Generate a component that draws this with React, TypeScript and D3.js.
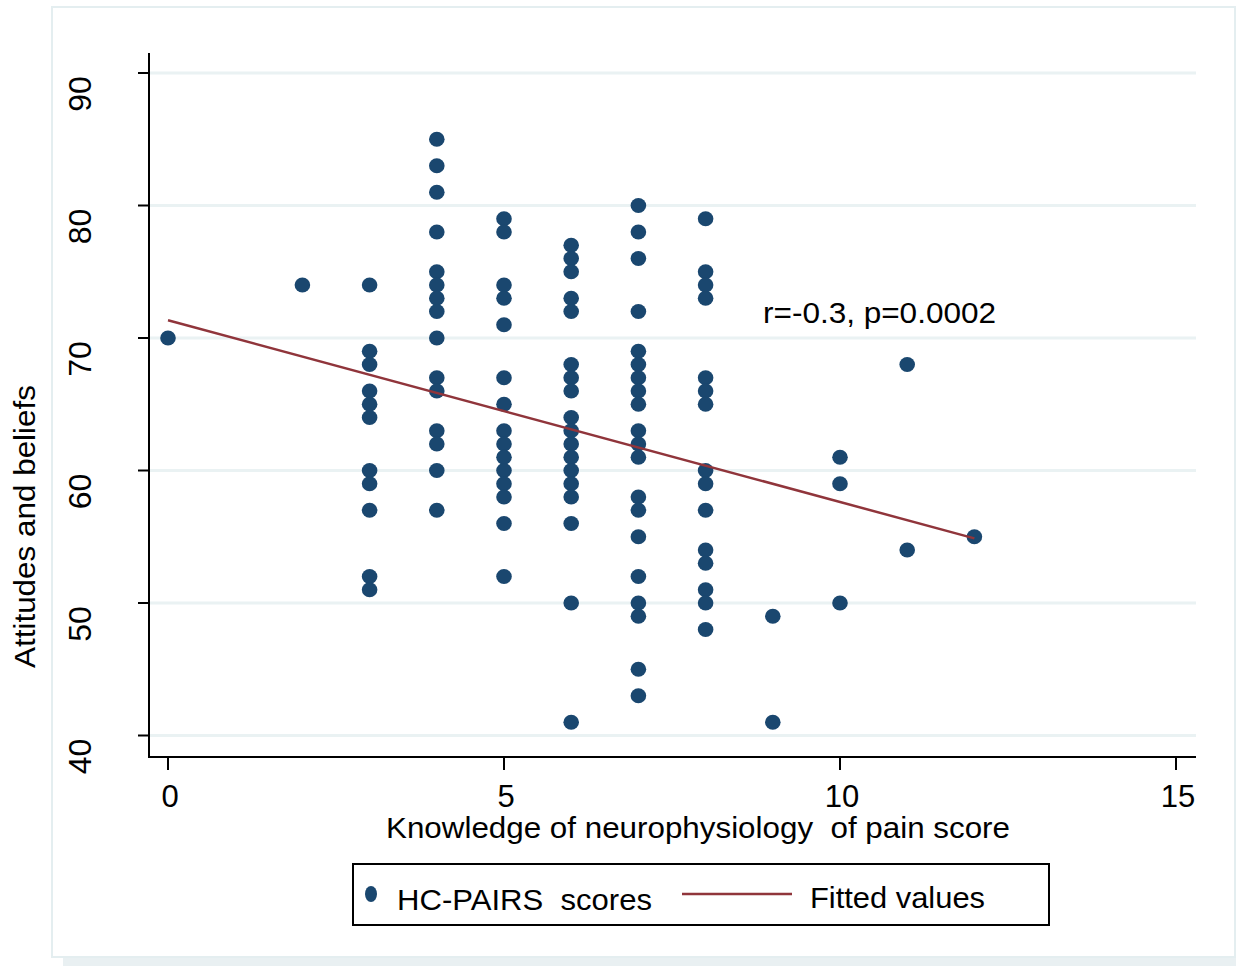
import React from "react";
import * as d3 from "d3";

// HC-PAIRS scores, one array per knowledge score
const knowledgeLevels = [0, 2, 3, 4, 5, 6, 7, 8, 9, 10, 11, 12];
const at0 = [70];
const at2 = [74];
const at3 = [74, 69, 68, 66, 65, 64, 60, 59, 57, 52, 51];
const at4 = [85, 83, 81, 78, 75, 74, 73, 72, 70, 67, 66, 63, 62, 60, 57];
const at5 = [79, 78, 74, 73, 71, 67, 65, 63, 62, 61, 60, 59, 58, 56, 52];
const at6 = [77, 76, 75, 73, 72, 68, 67, 66, 64, 63, 62, 61, 60, 59, 58, 56, 50, 41];
const at7 = [80, 78, 76, 72, 69, 68, 67, 66, 65, 63, 62, 61, 58, 57, 55, 52, 50, 49, 45, 43];
const at8 = [79, 75, 74, 73, 67, 66, 65, 60, 59, 57, 54, 53, 51, 50, 48];
const at9 = [49, 41];
const at10 = [61, 59, 50];
const at11 = [68, 54];
const at12 = [55];
const columns = [at0, at2, at3, at4, at5, at6, at7, at8, at9, at10, at11, at12];

// fitted line end points
const fitX = [0, 12];
const fitY = [71.34, 54.88];

const xTicks = [0, 5, 10, 15];
const yTicks = [40, 50, 60, 70, 80, 90];

const navy = "#1a476f";
const maroon = "#90353b";
const grid = "#eaf2f3";
const font = "'Liberation Sans', Arial, sans-serif";

export default function App() {
  const x = d3.scaleLinear().domain([0, 15]).range([168, 1176]);
  const y = d3.scaleLinear().domain([40, 90]).range([735.5, 73]);

  const points: { k: number; v: number }[] = [];
  columns.forEach((vals, i) => vals.forEach(v => points.push({ k: knowledgeLevels[i], v })));

  const line = d3
    .line<number>()
    .x((d, i) => x(fitX[i]))
    .y(d => y(d));

  return (
    <svg
      width={1236}
      height={966}
      style={{ position: "absolute", left: 0, top: 0, background: "#fff" }}
      fontFamily={font}
    >
      {/* outer frame */}
      <rect x={52} y={7} width={1183} height={950} fill="#fff" stroke="#e4eef0" strokeWidth={2} />
      <rect x={63} y={958} width={1173} height={8} fill="#e9f0f2" />

      {/* gridlines */}
      {yTicks.map(t => (
        <line key={"g" + t} x1={150} x2={1196} y1={y(t)} y2={y(t)} stroke={grid} strokeWidth={3} />
      ))}

      {/* axes */}
      <line x1={149} x2={149} y1={53} y2={758} stroke="#000" strokeWidth={2} />
      <line x1={148} x2={1196} y1={757} y2={757} stroke="#000" strokeWidth={2} />
      {yTicks.map(t => (
        <g key={"y" + t}>
          <line x1={138} x2={149} y1={y(t)} y2={y(t)} stroke="#000" strokeWidth={2} />
          <text
            transform={`translate(91,${y(t) + 21}) rotate(-90)`}
            textAnchor="middle"
            fontSize={32}
            fill="#000"
          >
            {t}
          </text>
        </g>
      ))}
      {xTicks.map(t => (
        <g key={"x" + t}>
          <line x1={x(t)} x2={x(t)} y1={757} y2={770} stroke="#000" strokeWidth={2} />
          <text x={x(t) + 2} y={807} textAnchor="middle" fontSize={31} fill="#000">
            {t}
          </text>
        </g>
      ))}

      {/* axis titles */}
      <text
        x={386}
        y={838}
        fontSize={30}
        fill="#000"
        textLength={624}
        lengthAdjust="spacingAndGlyphs"
        style={{ whiteSpace: "pre" }}
      >
        {"Knowledge of neurophysiology  of pain score"}
      </text>
      <text
        transform="translate(35,668) rotate(-90)"
        fontSize={30}
        fill="#000"
        textLength={283}
        lengthAdjust="spacingAndGlyphs"
      >
        Attitudes and beliefs
      </text>

      {/* points */}
      {points.map((p, i) => (
        <ellipse key={i} cx={x(p.k)} cy={y(p.v)} rx={7.8} ry={7.5} fill={navy} />
      ))}

      {/* fitted line */}
      <path d={line(fitY) || ""} fill="none" stroke={maroon} strokeWidth={2.5} />

      <text x={763} y={323} fontSize={29} fill="#000" textLength={233} lengthAdjust="spacingAndGlyphs">
        r=-0.3, p=0.0002
      </text>

      {/* legend */}
      <rect x={353} y={864} width={696} height={61} fill="#fff" stroke="#000" strokeWidth={2} />
      <ellipse cx={371} cy={894} rx={6} ry={8} fill={navy} />
      <text
        x={397}
        y={910}
        fontSize={29}
        fill="#000"
        textLength={255}
        lengthAdjust="spacingAndGlyphs"
        style={{ whiteSpace: "pre" }}
      >
        {"HC-PAIRS  scores"}
      </text>
      <line x1={682} x2={792} y1={894} y2={894} stroke={maroon} strokeWidth={2.5} />
      <text x={810} y={908} fontSize={29} fill="#000" textLength={175} lengthAdjust="spacingAndGlyphs">
        Fitted values
      </text>
    </svg>
  );
}
